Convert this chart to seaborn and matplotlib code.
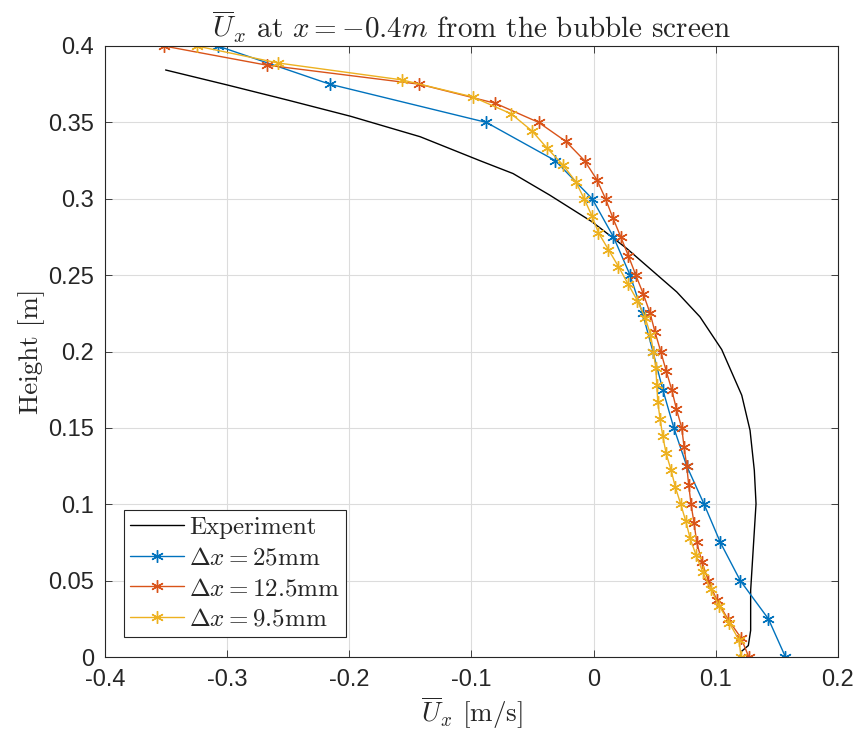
import matplotlib
matplotlib.use("Agg")
import matplotlib.pyplot as plt
import seaborn as sns

# ---------------- data ----------------
exp_u = [-0.3504, -0.300, -0.250, -0.199, -0.142, -0.093, -0.066, -0.036, -0.0015,
         0.027, 0.068, 0.087, 0.1048, 0.1212, 0.128, 0.1315, 0.1329, 0.1307,
         0.1285, 0.1285, 0.1266, 0.1212, 0.1194]
exp_h = [0.3843, 0.3745, 0.3645, 0.3540, 0.3406, 0.3249, 0.3165, 0.3024, 0.2850,
         0.2675, 0.2390, 0.2227, 0.2013, 0.1714, 0.1484, 0.1222, 0.1004, 0.0720,
         0.0436, 0.0174, 0.0075, 0.0038, 0.0]

h25 = [0.0, 0.025, 0.05, 0.075, 0.1, 0.125, 0.15, 0.175, 0.2, 0.225, 0.25, 0.275,
       0.3, 0.325, 0.35, 0.375, 0.4]
u25 = [0.157, 0.143, 0.120, 0.1037, 0.0904, 0.0762, 0.0656, 0.0566, 0.0485, 0.040,
       0.0298, 0.0162, -0.0012, -0.0315, -0.0879, -0.216, -0.3076]

h125 = [0.0, 0.0125, 0.025, 0.0375, 0.05, 0.0625, 0.075, 0.0875, 0.1, 0.1125, 0.125,
        0.1375, 0.15, 0.1625, 0.175, 0.1875, 0.2, 0.2125, 0.225, 0.2375, 0.25, 0.2625,
        0.275, 0.2875, 0.3, 0.3125, 0.325, 0.3375, 0.35, 0.3625, 0.375, 0.3875, 0.4]
u125 = [0.127, 0.1206, 0.1097, 0.1007, 0.0939, 0.0885, 0.0844, 0.0822, 0.0797, 0.0778,
        0.0762, 0.074, 0.0721, 0.0677, 0.0639, 0.0593, 0.0549, 0.0503, 0.0462, 0.0407,
        0.0345, 0.0285, 0.0222, 0.0157, 0.0097, 0.0026, -0.0075, -0.0227, -0.0451,
        -0.0805, -0.1427, -0.2678, -0.3518]

h95 = [0.0, 0.0111, 0.0222, 0.0333, 0.0444, 0.0556, 0.0667, 0.0778, 0.0889, 0.1,
       0.1111, 0.1222, 0.1333, 0.1444, 0.1556, 0.1667, 0.1778, 0.1889, 0.2, 0.2111,
       0.2222, 0.2333, 0.2444, 0.2556, 0.2667, 0.2778, 0.2889, 0.3, 0.3111, 0.3222,
       0.3333, 0.3444, 0.3556, 0.3667, 0.3778, 0.3889, 0.4]
u95 = [0.1206, 0.119, 0.1111, 0.1029, 0.0958, 0.0893, 0.0838, 0.0789, 0.0754, 0.0713,
       0.0669, 0.0634, 0.0593, 0.0566, 0.0544, 0.0525, 0.0517, 0.0509, 0.0489, 0.0465,
       0.0421, 0.0358, 0.028, 0.0203, 0.0121, 0.0039, -0.0015, -0.0078, -0.0146,
       -0.0252, -0.0383, -0.0505, -0.0675, -0.0991, -0.1568, -0.2585, -0.325]

labels = ["Experiment", r"$\Delta x = 25\mathrm{mm}$", r"$\Delta x = 12.5\mathrm{mm}$",
          r"$\Delta x = 9.5\mathrm{mm}$"]
xticks = [-0.4, -0.3, -0.2, -0.1, 0.0, 0.1, 0.2]
xticklabels = ["-0.4", "-0.3", "-0.2", "-0.1", "0", "0.1", "0.2"]
yticks = [0.0, 0.05, 0.1, 0.15, 0.2, 0.25, 0.3, 0.35, 0.4]
yticklabels = ["0", "0.05", "0.1", "0.15", "0.2", "0.25", "0.3", "0.35", "0.4"]

# ---------------- style ----------------
sns.set_theme(style="ticks")
plt.rcParams["font.family"] = ["Liberation Sans", "DejaVu Sans"]
plt.rcParams["mathtext.fontset"] = "cm"
plt.rcParams["axes.unicode_minus"] = False
plt.rcParams["axes.formatter.use_mathtext"] = True

fig = plt.figure(figsize=(8.59, 7.33), dpi=100)
ax = fig.add_axes([105 / 859, 1 - 657 / 733, (838 - 105) / 859, (657 - 46) / 733])

c_blue, c_red, c_yel = "#0072BD", "#D95319", "#EDB120"
ast = (6, 2, 0)

sns.lineplot(x=exp_u, y=exp_h, sort=False, estimator=None, ax=ax, color="black",
             lw=1.0, label=labels[0])
for u, h, c, lab in [(u25, h25, c_blue, labels[1]), (u125, h125, c_red, labels[2]),
                     (u95, h95, c_yel, labels[3])]:
    sns.lineplot(x=u, y=h, sort=False, estimator=None, ax=ax, color=c, lw=1.0,
                 marker=ast, markersize=9, markeredgewidth=1.0, markeredgecolor=c,
                 label=lab)

ax.set_xlim(-0.4, 0.2)
ax.set_ylim(0, 0.4)
ax.set_xticks(xticks)
ax.set_xticklabels(xticklabels)
ax.set_yticks(yticks)
ax.set_yticklabels(yticklabels)
ax.tick_params(direction="in", length=5, width=0.6, labelsize=17, colors="#262626",
               top=True, right=True)
ax.tick_params(axis="x", pad=9)
ax.tick_params(axis="y", pad=8)
ax.grid(True, color="#dcdcdc", lw=0.8)
ax.set_axisbelow(True)
for s in ax.spines.values():
    s.set_color("#262626")
    s.set_linewidth(0.8)
    s.set_visible(True)

ax.set_xlabel(r"$\overline{U}_x$ [m/s]", fontfamily="cmr10", fontsize=19.5, labelpad=2)
ax.set_ylabel("Height [m]", fontfamily="cmr10", fontsize=19.5, labelpad=2)
ax.set_title(r"$\overline{U}_x$ at $x=-0.4m$ from the bubble screen",
             fontfamily="cmr10", fontsize=21, pad=6)

leg = ax.legend(loc="lower left", bbox_to_anchor=(0.026, 0.033), borderaxespad=0,
                fancybox=False, framealpha=1, edgecolor="#262626",
                prop={"family": "cmr10", "size": 18}, handlelength=2.15,
                labelspacing=0.32, borderpad=0.25, handletextpad=0.2)
leg.get_frame().set_linewidth(0.8)

fig.savefig("out.png", dpi=100)
